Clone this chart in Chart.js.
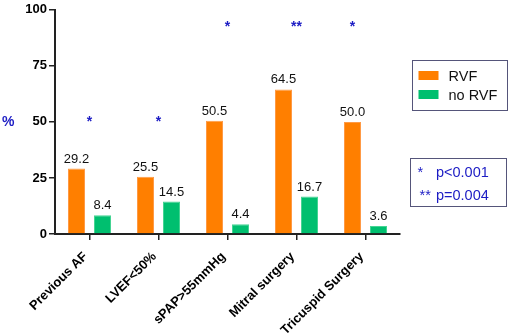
<!DOCTYPE html>
<html>
<head>
<meta charset="utf-8">
<script src="https://cdn.jsdelivr.net/npm/chart.js@4.4.0/dist/chart.umd.min.js"></script>
<style>
  html, body { margin: 0; padding: 0; background: #fff; }
  #wrap { width: 510px; height: 336px; }
</style>
</head>
<body>
<div id="wrap"><canvas id="chart"></canvas></div>
<script>
const categories = ["Previous AF", "LVEF<50%", "sPAP>55mmHg", "Mitral surgery", "Tricuspid Surgery"];
const rvf = [29.2, 25.5, 50.5, 64.5, 50.0];
const noRvf = [8.4, 14.5, 4.4, 16.7, 3.6];
const seriesNames = ["RVF", "no RVF"];
const yTicks = [0, 25, 50, 75, 100];

// significance marks
const stars = ["*", "*", "*", "**", "*"];
const starLevel = [50, 50, 92.5, 92.5, 92.5];
const starOnBar = [false, false, false, false, true]; // last one sits above the RVF bar
const pNotes = [["*", "p<0.001"], ["**", "p=0.004"]];

const FONT = "Arial, 'Liberation Sans', sans-serif";
const BLUE = "#1c1cc4";

const overlay = {
  id: "overlay",
  afterDatasetsDraw(chart) {
    const ctx = chart.ctx;
    const x = chart.scales.x, y = chart.scales.y;
    const area = chart.chartArea;
    ctx.save();

    // value labels on bars
    ctx.font = "13px " + FONT;
    ctx.fillStyle = "#111";
    ctx.textAlign = "center";
    ctx.textBaseline = "bottom";
    chart.data.datasets.forEach((ds, i) => {
      chart.getDatasetMeta(i).data.forEach((bar, j) => {
        ctx.fillText(ds.data[j].toFixed(1), bar.x, bar.y - 3);
      });
    });

    // y unit
    ctx.font = "bold 14px " + FONT;
    ctx.fillStyle = BLUE;
    ctx.textAlign = "left";
    ctx.textBaseline = "middle";
    ctx.fillText("%", 2, y.getPixelForValue(50));

    // stars
    ctx.font = "bold 14px " + FONT;
    ctx.textAlign = "center";
    ctx.textBaseline = "alphabetic";
    stars.forEach((s, j) => {
      const px = starOnBar[j] ? chart.getDatasetMeta(0).data[j].x : x.getPixelForValue(j);
      ctx.fillText(s, px, y.getPixelForValue(starLevel[j]) + 4);
    });

    // legend box
    const lx = area.right + 12.5;
    ctx.strokeStyle = "#55557a";
    ctx.lineWidth = 1;
    ctx.strokeRect(lx, 60.5, 95, 50);
    ctx.font = "14.5px " + FONT;
    ctx.textAlign = "left";
    ctx.textBaseline = "middle";
    chart.data.datasets.forEach((ds, i) => {
      const cy = 75.5 + i * 19;
      ctx.fillStyle = ds.backgroundColor;
      ctx.fillRect(lx + 6, cy - 4.5, 20, 9);
      ctx.fillStyle = "#111";
      ctx.fillText(ds.label, lx + 36, cy + 1);
    });

    // p-value box
    const bx = area.right + 10.5;
    ctx.strokeRect(bx, 158.5, 96, 48);
    ctx.fillStyle = BLUE;
    ctx.font = "14.5px " + FONT;
    ctx.textAlign = "left";
    ctx.textBaseline = "alphabetic";
    pNotes.forEach((p, i) => {
      const by = 177 + i * 23;
      ctx.fillText(p[0], bx + 7 + i * 2, by);
      ctx.fillText(p[1], bx + 25.5, by);
    });

    ctx.restore();
  }
};

new Chart(document.getElementById("chart"), {
  type: "bar",
  data: {
    labels: categories,
    datasets: [
      {
        label: seriesNames[0],
        data: rvf,
        backgroundColor: "#ff7f00",
        borderColor: "#ff9a45",
        borderWidth: 1,
        categoryPercentage: 0.754,
        barPercentage: 0.654,
      },
      {
        label: seriesNames[1],
        data: noRvf,
        backgroundColor: "#00bf6f",
        borderColor: "#45d493",
        borderWidth: 1,
        categoryPercentage: 0.754,
        barPercentage: 0.654,
      },
    ],
  },
  options: {
    responsive: true,
    maintainAspectRatio: false,
    animation: false,
    layout: { padding: { top: 7, right: 110, left: 0, bottom: 0 } },
    plugins: { legend: { display: false }, tooltip: { enabled: false } },
    scales: {
      x: {
        grid: { display: true, drawOnChartArea: false, drawTicks: true, tickLength: 6, offset: false, color: "#222", lineWidth: 1.5 },
        border: { display: true, color: "#222", width: 2 },
        ticks: {
          color: "#000",
          font: { family: FONT, size: 13, weight: "bold" },
          minRotation: 45,
          maxRotation: 45,
          padding: 9,
          labelOffset: -4,
          autoSkip: false,
        },
        afterFit: (scale) => { scale.height = 102; },
      },
      y: {
        min: 0,
        max: 100,
        afterBuildTicks: (scale) => { scale.ticks = yTicks.map((v) => ({ value: v })); },
        grid: { display: true, drawOnChartArea: false, drawTicks: true, tickLength: 6, color: "#222", lineWidth: 1.5 },
        border: { display: true, color: "#222", width: 2 },
        ticks: {
          color: "#000",
          font: { family: FONT, size: 13, weight: "bold" },
          padding: 2,
        },
        afterFit: (scale) => { scale.width = 55; },
      },
    },
  },
  plugins: [overlay],
});
</script>
</body>
</html>
